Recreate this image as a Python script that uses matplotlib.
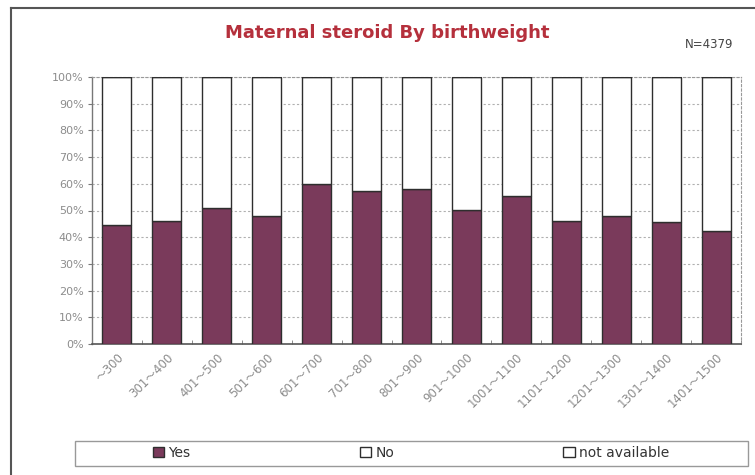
import numpy as np
import matplotlib.pyplot as plt
from matplotlib.lines import Line2D
from matplotlib.patches import Rectangle

# 출생체중 구간별 산모 스테로이드 사용 비율
categories = ['～300', '301～400', '401～500', '501～600', '601～700', '701～800',
              '801～900', '901～1000', '1001～1100', '1101～1200', '1201～1300',
              '1301～1400', '1401～1500']
yes = [44.5, 46.0, 51.0, 48.0, 60.0, 57.3, 58.0, 50.2, 55.6, 46.2, 48.0, 45.7, 42.5]
no = [100 - v for v in yes]
not_available = [0] * len(categories)

W, H = 755, 475
fig = plt.figure(figsize=(W / 100, H / 100), dpi=100)
fig.patch.set_facecolor('white')

ax = fig.add_axes([92 / W, 1 - 344 / H, (741 - 92) / W, (344 - 77) / H])

x = np.arange(len(categories))
bw = 0.58
edge = '#2e2e2e'
b1 = ax.bar(x, yes, bw, color='#7a3a5b', edgecolor=edge, lw=1, label='Yes', zorder=3)
b2 = ax.bar(x, no, bw, bottom=yes, color='white', edgecolor=edge, lw=1, label='No', zorder=3)
b3 = ax.bar(x, not_available, bw, bottom=100, color='white', edgecolor=edge, lw=1,
            label='not available', zorder=3)

ax.set_xlim(-0.5, len(categories) - 0.5)
ax.set_ylim(0, 100)
ax.set_yticks(np.arange(0, 101, 10))
ax.set_yticklabels(['%d%%' % v for v in range(0, 101, 10)])
ax.set_xticks(x)
ax.set_xticklabels(categories, rotation=45, ha='right', rotation_mode='anchor',
                   family=['DejaVu Sans', 'Noto Sans CJK JP'])
ax.set_xticks(np.arange(-0.5, len(categories), 1), minor=True)

ax.yaxis.grid(True, color='#b0b0b0', ls=(0, (2, 2)), lw=0.8, zorder=0)
ax.tick_params(axis='y', length=3, color='#777777', labelcolor='#8c8c8c',
               labelsize=8, pad=3)
ax.tick_params(axis='x', which='major', length=0, labelcolor='#8c8c8c',
               labelsize=8.5, pad=5)
ax.tick_params(axis='x', which='minor', length=3, direction='in', color='#777777')

for s in ['top', 'right']:
    ax.spines[s].set_color('#999999')
    ax.spines[s].set_linestyle((0, (2, 2)))
    ax.spines[s].set_linewidth(0.8)
ax.spines['left'].set_color('#777777')
ax.spines['left'].set_linewidth(1.0)
ax.spines['bottom'].set_color('#555555')
ax.spines['bottom'].set_linewidth(1.2)

# 제목
fig.text(387 / W, 1 - 33 / H, 'Maternal steroid By birthweight', ha='center',
         va='center', fontsize=13, fontweight='bold', color='#b5303c')
fig.text(709 / W, 1 - 45 / H, 'N=4379', ha='center', va='center',
         fontsize=8.5, color='#444444')

# 바깥 테두리
fig.add_artist(Line2D([11 / W, 11 / W], [0, 1 - 8 / H], color='#555555', lw=1.5))
fig.add_artist(Line2D([11 / W, 1], [1 - 8 / H, 1 - 8 / H], color='#555555', lw=1.5))

# 범례 상자
fig.add_artist(Rectangle((75 / W, 1 - 466 / H), (748 - 75) / W, 25 / H,
                         transform=fig.transFigure, fill=False,
                         edgecolor='#999999', lw=1))
leg = fig.legend(handles=[b1, b2, b3], loc='center', ncol=3,
                 bbox_to_anchor=(411 / W, 1 - 453 / H), frameon=False,
                 fontsize=10, handlelength=0.8, handleheight=0.8,
                 handletextpad=0.3, columnspacing=12.2)
for t in leg.get_texts():
    t.set_color('#333333')

fig.savefig('out.png', dpi=100)
